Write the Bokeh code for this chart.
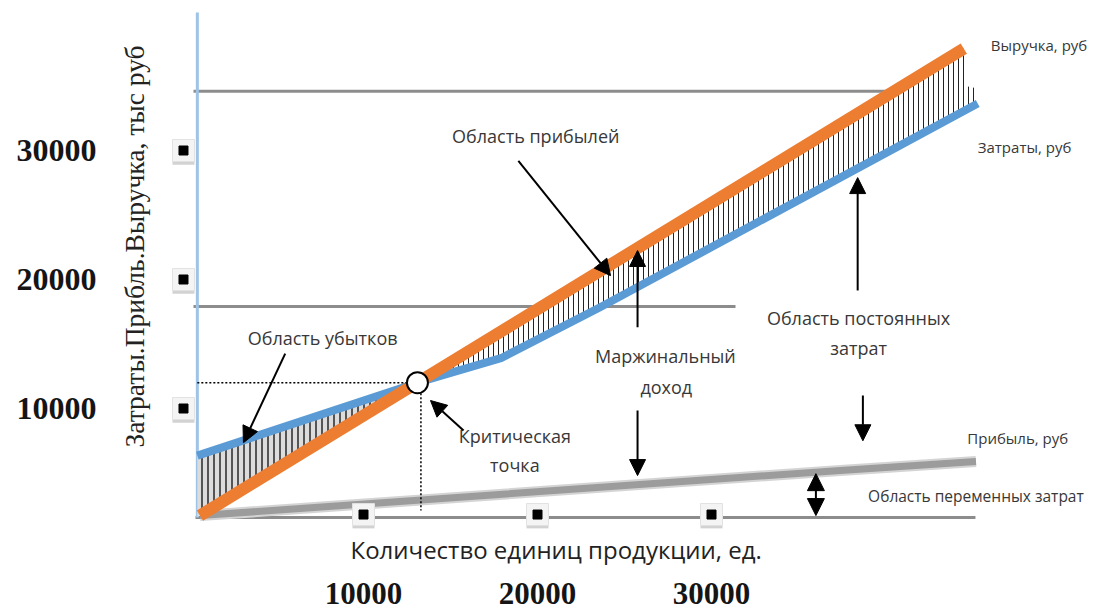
from bokeh.plotting import figure
from bokeh.models import Range1d, LinearAxis, FixedTicker, Title, Arrow, NormalHead, ColumnDataSource
from bokeh.core.properties import value
from bokeh.embed import file_html
from bokeh.resources import INLINE

# ---- data (units: quantity, rubles) ----
x_ticks = [10000, 20000, 30000]
y_ticks = [10000, 20000, 30000]

revenue_q = [600, 44500]
revenue = [1700, 37900]

cost_q = [450, 13100, 17900, 23600, 45300]
cost = [6350, 12000, 13900, 17850, 33650]

profit_q = [600, 37400, 45200]
profit = [1700, 5200, 5900]

critical_q = [13100]
critical_v = [12000]

loss_q = [450, 13100]
loss_top = [6350, 12000]
loss_bottom = [1580, 12000]

gain_q = [13100, 17900, 23600, 44500, 44600, 45300]
gain_low = [12000, 13900, 17850, 33050, 33120, 33650]
gain_high = [12000, 15950, 20650, 37900, 35000, 34800]

grid_y = [34600, 17900, 1550]
grid_x0 = [230, 230, 345]
grid_x1 = [45170, 31380, 45170]

axis_q = [450, 450]
axis_v = [1550, 40700]

dot_h_q = [450, 13100]
dot_h_v = [12000, 12000]
dot_v_q = [13300, 13300]
dot_v_v = [11500, 2100]

left_marker_q = [-345, -345, -345]
bottom_marker_v = [1780, 1780, 1780]

arrow_x0 = [18900, 25750, 5500, 15750, 25750, 38700, 38400]
arrow_y0 = [29200, 16300, 14250, 8300, 9850, 11000, 19150]
arrow_x1 = [24200, 25750, 3100, 13850, 25750, 38700, 38400]
arrow_y1 = [20300, 22250, 7350, 10620, 4800, 7500, 27900]

double_arrow_q = 36000
double_arrow_v = [1700, 4950]

center_labels = ["Область прибылей", "Область убытков", "Маржинальный", "доход",
                 "Область постоянных", "затрат", "Критическая", "точка"]
center_q = [19900, 7650, 27350, 27400, 38450, 38450, 18700, 18700]
center_v = [31150, 15450, 14100, 11650, 17000, 14700, 7900, 5600]

side_labels = ["Выручка, руб", "Затраты, руб", "Прибыль, руб"]
side_q = [46050, 45300, 44700]
side_v = [38150, 30250, 7750]

var_label = ["Область переменных затрат"]
var_q = [39000]
var_v = [3250]

x_title = "Количество единиц продукции, ед."
y_title = "Затраты.Прибль.Выручка, тыс руб"

# ---- figure ----
p = figure(width=1096, height=612, output_backend="svg", toolbar_location=None,
           x_range=Range1d(-1092, 52126), y_range=Range1d(698, 41628),
           x_axis_location=None, y_axis_location=None,
           min_border_left=170, min_border_right=0, min_border_top=0, min_border_bottom=84)
p.outline_line_color = None
p.xgrid.visible = False
p.ygrid.visible = False
p.background_fill_color = "white"
p.border_fill_color = "white"

ytitle = Title(text=y_title, align="left", offset=81, text_font="Liberation Serif",
               text_font_size="27.5px", text_font_style="normal", text_color="#222222", standoff=41)
p.add_layout(ytitle, "left")
yax = LinearAxis(ticker=FixedTicker(ticks=y_ticks), axis_line_color=None,
                 major_tick_line_color=None, minor_tick_line_color=None,
                 major_label_standoff=-6, major_label_text_font="Liberation Serif",
                 major_label_text_font_size="32px", major_label_text_font_style="bold",
                 major_label_text_color="#151515")
p.add_layout(yax, "left")

xtitle = Title(text=x_title, align="left", offset=180, text_font="Open Sans",
               text_font_size="24px", text_font_style="normal", text_color="#222222", standoff=5)
p.add_layout(xtitle, "below")
xax = LinearAxis(ticker=FixedTicker(ticks=x_ticks), axis_line_color=None,
                 major_tick_line_color=None, minor_tick_line_color=None,
                 major_label_standoff=8, major_label_text_font="Liberation Serif",
                 major_label_text_font_size="31px", major_label_text_font_style="bold",
                 major_label_text_color="#151515")
p.add_layout(xax, "below")

# gray horizontal lines
p.segment(x0=grid_x0, y0=grid_y, x1=grid_x1, y1=grid_y, line_color="#8c8c8c", line_width=3)

# profit band
p.line(profit_q, profit, line_color="#d4d4d4", line_width=11)
p.line(profit_q, profit, line_color="#9c9c9c", line_width=7)

# blue vertical axis line
p.line(axis_q, axis_v, line_color="#9DC3E6", line_width=3)

# hatched areas
p.varea(x=loss_q, y1=loss_bottom, y2=loss_top, fill_color="#dcdcdc",
        hatch_pattern="|", hatch_color="#1a1a1a", hatch_scale=6, hatch_weight=1.4)
p.varea(x=gain_q, y1=gain_low, y2=gain_high, fill_color="white",
        hatch_pattern="|", hatch_color="#222222", hatch_scale=5, hatch_weight=1)

# cost and revenue lines
p.line(cost_q, cost, line_color="#5B9BD5", line_width=8, line_join="round")
p.line(revenue_q, revenue, line_color="#ED7D31", line_width=12, line_cap="butt")

# dotted guides
p.line(dot_h_q, dot_h_v, line_color="black", line_width=1.5, line_dash="2 2")
p.line(dot_v_q, dot_v_v, line_color="black", line_width=1.5, line_dash="2 2")

# critical point
p.scatter(critical_q, critical_v, size=21, fill_color="white", line_color="black", line_width=2)

# arrows
src = ColumnDataSource(dict(x0=arrow_x0, y0=arrow_y0, x1=arrow_x1, y1=arrow_y1))
p.add_layout(Arrow(source=src, x_start="x0", y_start="y0", x_end="x1", y_end="y1",
                   line_color="black", line_width=2,
                   end=NormalHead(size=16, fill_color="black", line_color="black")))
p.add_layout(Arrow(x_start=double_arrow_q, y_start=double_arrow_v[0],
                   x_end=double_arrow_q, y_end=double_arrow_v[1],
                   line_color="black", line_width=2,
                   start=NormalHead(size=17, fill_color="black", line_color="black"),
                   end=NormalHead(size=17, fill_color="black", line_color="black")))

# markers (axis tick boxes)
lm_shadow = [v - 250 for v in y_ticks]
p.scatter(left_marker_q, lm_shadow, marker="square", size=22, fill_color="#d2d2d2", line_color=None)
p.scatter(left_marker_q, y_ticks, marker="square", size=22, fill_color="#f4f4f4", line_color="#e2e2e2")
p.scatter(left_marker_q, y_ticks, marker="square", size=9, fill_color="black", line_color="black")
bm_shadow = [v - 250 for v in bottom_marker_v]
p.scatter(x_ticks, bm_shadow, marker="square", size=22, fill_color="#d2d2d2", line_color=None)
p.scatter(x_ticks, bottom_marker_v, marker="square", size=22, fill_color="#f4f4f4", line_color="#e2e2e2")
p.scatter(x_ticks, bottom_marker_v, marker="square", size=9, fill_color="black", line_color="black")

# texts
p.text(center_q, center_v, text=center_labels, text_font=value("Open Sans"), text_font_size="18px",
       text_align="center", text_baseline="middle", text_color="#383838")
p.text(side_q, side_v, text=side_labels, text_font=value("Open Sans"), text_font_size="15px",
       text_align="left", text_baseline="middle", text_color="#383838")
p.text(var_q, var_v, text=var_label, text_font=value("Open Sans"), text_font_size="15.5px",
       text_align="left", text_baseline="middle", text_color="#383838")

open("out.html", "w").write(file_html(p, INLINE))
